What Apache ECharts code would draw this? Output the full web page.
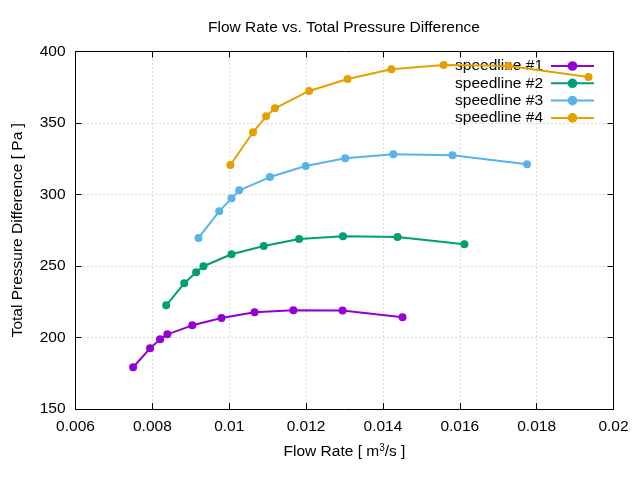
<!DOCTYPE html>
<html><head><meta charset="utf-8">
<script src="https://cdn.jsdelivr.net/npm/echarts@6/dist/echarts.min.js"></script>
<style>html,body{margin:0;padding:0;background:#fff}#c{width:640px;height:480px}</style>
</head><body><div id="c"></div>
<script>
const seriesNames = ['speedline #1', 'speedline #2', 'speedline #3', 'speedline #4'];
const colors = ['#9400d3', '#009e73', '#56b4e9', '#e69f00'];
const s1x = [0.00750, 0.00794, 0.00820, 0.00839, 0.00904, 0.00980, 0.01066, 0.01167, 0.01295, 0.01451];
const s1y = [179.2, 192.4, 198.7, 202.2, 208.5, 213.6, 217.6, 219.0, 218.8, 214.1];
const s2x = [0.00836, 0.00883, 0.00914, 0.00933, 0.01006, 0.01090, 0.01182, 0.01296, 0.01438, 0.01612];
const s2y = [222.5, 237.9, 245.6, 249.8, 258.2, 264.0, 268.9, 270.8, 270.3, 265.2];
const s3x = [0.00920, 0.00974, 0.01006, 0.01026, 0.01106, 0.01199, 0.01302, 0.01427, 0.01581, 0.01775];
const s3y = [269.6, 288.2, 297.3, 302.9, 312.2, 319.9, 325.3, 328.1, 327.4, 321.1];
const s4x = [0.01003, 0.01062, 0.01096, 0.01119, 0.01208, 0.01308, 0.01422, 0.01558, 0.01727, 0.01935];
const s4y = [320.6, 343.5, 354.7, 360.3, 372.4, 380.8, 387.6, 390.6, 389.9, 382.2];
const xTicks = ['0.006', '0.008', '0.01', '0.012', '0.014', '0.016', '0.018', '0.02'];
const yTicks = ['150', '200', '250', '300', '350', '400'];

const FONT = 'Liberation Sans, Arial, sans-serif';
const FS = 15.5;
const allX = [s1x, s2x, s3x, s4x];
const allY = [s1y, s2y, s3y, s4y];

function fmtX(v) {
  const idx = Math.round((v - 0.006) / 0.002);
  return xTicks[idx] !== undefined ? xTicks[idx] : String(v);
}
function fmtY(v) {
  const idx = Math.round((v - 150) / 50);
  return yTicks[idx] !== undefined ? yTicks[idx] : String(v);
}

const tickStyle = { show: true, inside: true, length: 6, lineStyle: { color: '#000', width: 1 } };
const lineStyleAxis = { show: true, lineStyle: { color: '#000', width: 1 } };
const splitStyle = { show: true, lineStyle: { color: '#b4b4b4', type: [1, 3], width: 1 } };

const chart = echarts.init(document.getElementById('c'), null, { renderer: 'canvas' });
chart.setOption({
  animation: false,
  backgroundColor: '#fff',
  title: {
    text: 'Flow Rate vs. Total Pressure Difference',
    left: 203, top: 15,
    textStyle: { fontSize: FS, fontWeight: 'normal', color: '#000', fontFamily: FONT }
  },
  grid: { left: 75.5, right: 26.5, top: 51.5, bottom: 71, show: false, containLabel: false },
  legend: {
    orient: 'vertical', right: 40, top: 53, align: 'right',
    itemWidth: 43, itemHeight: 12, itemGap: 1.3,
    textStyle: { fontSize: FS, color: '#000', fontFamily: FONT, padding: [0, 3, 0, 0] },
    data: seriesNames
  },
  xAxis: [{
    type: 'value', min: 0.006, max: 0.02, interval: 0.002,
    name: 'Flow Rate [ m{sup|3}/s ]', nameLocation: 'middle', nameGap: 34,
    nameTextStyle: { fontSize: FS, color: '#000', fontFamily: FONT,
      rich: { sup: { fontSize: 10, color: '#000', fontFamily: FONT, padding: [0, 0, 8, 0] } } },
    axisLine: lineStyleAxis,
    axisTick: tickStyle,
    axisLabel: { color: '#000', fontSize: FS, fontFamily: FONT, margin: 10, formatter: fmtX },
    splitLine: splitStyle
  }, {
    type: 'value', position: 'top', min: 0.006, max: 0.02, interval: 0.002,
    axisLine: lineStyleAxis, axisTick: tickStyle, axisLabel: { show: false }, splitLine: { show: false }
  }],
  yAxis: [{
    type: 'value', min: 150, max: 400, interval: 50,
    name: 'Total Pressure Difference [ Pa ]', nameLocation: 'middle', nameGap: 50,
    nameTextStyle: { fontSize: FS, color: '#000', fontFamily: FONT },
    axisLine: lineStyleAxis,
    axisTick: tickStyle,
    axisLabel: { color: '#000', fontSize: FS, fontFamily: FONT, margin: 10, formatter: fmtY },
    splitLine: splitStyle
  }, {
    type: 'value', position: 'right', min: 150, max: 400, interval: 50,
    axisLine: lineStyleAxis, axisTick: tickStyle, axisLabel: { show: false }, splitLine: { show: false }
  }],
  series: seriesNames.map((n, i) => ({
    name: n, type: 'line', xAxisIndex: 0, yAxisIndex: 0,
    data: allX[i].map((x, j) => [x, allY[i][j]]),
    symbol: 'circle', symbolSize: 8, showSymbol: true,
    lineStyle: { color: colors[i], width: 2 },
    itemStyle: { color: colors[i] },
    z: 5
  }))
});
</script></body></html>
